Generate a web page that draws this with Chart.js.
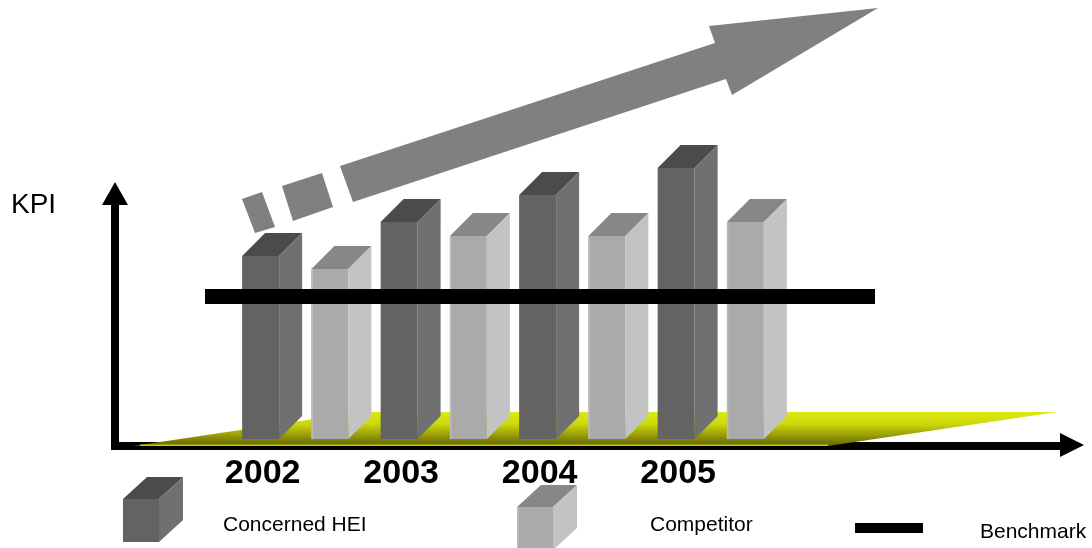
<!DOCTYPE html>
<html lang="en">
<head>
  <meta charset="UTF-8">
  <title>KPI vs Benchmark</title>
  <script src="https://cdn.jsdelivr.net/npm/chart.js"></script>
  <style>
    body {
      margin: 0;
      background: #ffffff;
    }
  </style>
</head>
<body>
  <canvas id="myChart" width="1092" height="548"></canvas>

  <script>
    // Chart data
    const years = ['2002', '2003', '2004', '2005'];
    const heiValues = [61, 72.3, 81.3, 90.3];
    const competitorValues = [56.7, 67.7, 67.7, 72.3];
    const benchmarkValue = 47.5;
    const seriesNames = ['Concerned HEI', 'Competitor', 'Benchmark'];
    const axisTitle = 'KPI';

    // face colours for the 3D boxes
    const heiFaces = { front: '#636363', side: '#707070', top: '#4b4b4b' };
    const compFaces = { front: '#aaaaaa', side: '#c3c3c3', top: '#878787', edge: '#bcbcbc' };
    const FONT = "'Liberation Sans', Arial, sans-serif";

    function poly(ctx, pts) {
      ctx.beginPath();
      ctx.moveTo(pts[0][0], pts[0][1]);
      for (let i = 1; i < pts.length; i++) ctx.lineTo(pts[i][0], pts[i][1]);
      ctx.closePath();
      ctx.fill();
    }

    // draws top and side of a box whose front face is left..right / top..bottom
    function boxFaces(ctx, left, right, top, bottom, dx, dy, faces) {
      ctx.fillStyle = faces.top;
      poly(ctx, [[left, top], [left + dx, top - dy], [right + dx, top - dy], [right, top]]);
      ctx.fillStyle = faces.side;
      poly(ctx, [[right, top], [right + dx, top - dy], [right + dx, bottom - dy], [right, bottom]]);
      if (faces.edge) {
        ctx.fillStyle = faces.edge;
        ctx.fillRect(left, top, 1.5, bottom - top);
      }
    }

    const decorPlugin = {
      id: 'decor',
      beforeDatasetsDraw(chart) {
        const ctx = chart.ctx;
        ctx.save();

        // big trend arrow and its dashes (decoration)
        ctx.fillStyle = '#808080';
        poly(ctx, [[340, 166], [715, 43], [709, 26], [878, 8], [732, 95], [726, 79], [353, 202]]);
        poly(ctx, [[282, 186], [322, 173], [333, 207], [293, 221]]);
        poly(ctx, [[242, 199], [262, 192], [275, 227], [255, 233]]);

        // axes with arrow heads
        ctx.fillStyle = '#000000';
        ctx.fillRect(111, 205, 8, 245);
        poly(ctx, [[102, 205], [128, 205], [115, 182]]);
        ctx.fillRect(111, 442, 950, 8);
        poly(ctx, [[1060, 433], [1060, 457], [1084, 445]]);

        // yellow floor
        const g = ctx.createLinearGradient(0, 412, 0, 446);
        g.addColorStop(0, '#dcea10');
        g.addColorStop(0.35, '#cdd80c');
        g.addColorStop(1, '#646400');
        ctx.fillStyle = g;
        poly(ctx, [[133, 446], [361, 412], [1057, 412], [828, 446]]);
        ctx.fillStyle = '#c8d000';
        ctx.fillRect(140, 444.5, 688, 1.5);

        ctx.restore();
      },
      afterDatasetsDraw(chart) {
        const ctx = chart.ctx;
        const area = chart.chartArea;
        ctx.save();

        // 3D tops and sides of the bars
        [heiFaces, compFaces].forEach((faces, di) => {
          chart.getDatasetMeta(di).data.forEach(bar => {
            const p = bar.getProps(['x', 'y', 'base', 'width'], true);
            boxFaces(ctx, p.x - p.width / 2, p.x + p.width / 2, p.y, p.base, 23, 23, faces);
          });
        });

        // benchmark line
        const by = chart.scales.y.getPixelForValue(benchmarkValue);
        ctx.fillStyle = '#000000';
        ctx.fillRect(area.left - 21, by - 7.5, area.right - area.left + 116, 15);

        // year labels under the HEI bars
        ctx.fillStyle = '#000000';
        ctx.font = 'bold 34px ' + FONT;
        ctx.textAlign = 'center';
        ctx.textBaseline = 'alphabetic';
        chart.getDatasetMeta(0).data.forEach((bar, i) => {
          ctx.fillText(years[i], bar.x + 2, 483);
        });

        // axis title
        ctx.textAlign = 'left';
        ctx.font = '28px ' + FONT;
        ctx.fillText(axisTitle, 11, 213);

        // legend
        ctx.fillStyle = heiFaces.front;
        ctx.fillRect(123, 499, 36, 43);
        boxFaces(ctx, 123, 159, 499, 542, 24, 22, { front: heiFaces.front, side: heiFaces.side, top: heiFaces.top });
        ctx.fillStyle = compFaces.front;
        ctx.fillRect(517, 507, 36, 43);
        boxFaces(ctx, 517, 553, 507, 550, 24, 22, compFaces);
        ctx.fillStyle = '#000000';
        ctx.fillRect(855, 523, 68, 10);

        ctx.font = '21px ' + FONT;
        ctx.fillText(seriesNames[0], 223, 531);
        ctx.fillText(seriesNames[1], 650, 531);
        ctx.fillText(seriesNames[2], 980, 538);

        ctx.restore();
      }
    };

    const ctx = document.getElementById('myChart').getContext('2d');
    new Chart(ctx, {
      type: 'bar',
      data: {
        labels: years,
        datasets: [{
          label: seriesNames[0],
          data: heiValues,
          backgroundColor: heiFaces.front,
          borderWidth: 0
        }, {
          label: seriesNames[1],
          data: competitorValues,
          backgroundColor: compFaces.front,
          borderWidth: 0
        }]
      },
      options: {
        responsive: false,
        animation: false,
        layout: {
          padding: { left: 226, right: 312, top: 139, bottom: 109 }
        },
        datasets: {
          bar: { categoryPercentage: 1, barPercentage: 0.534 }
        },
        scales: {
          x: { display: false },
          y: { display: false, min: 0, max: 100 }
        },
        plugins: {
          legend: { display: false },
          tooltip: { enabled: false }
        }
      },
      plugins: [decorPlugin]
    });
  </script>
</body>
</html>
